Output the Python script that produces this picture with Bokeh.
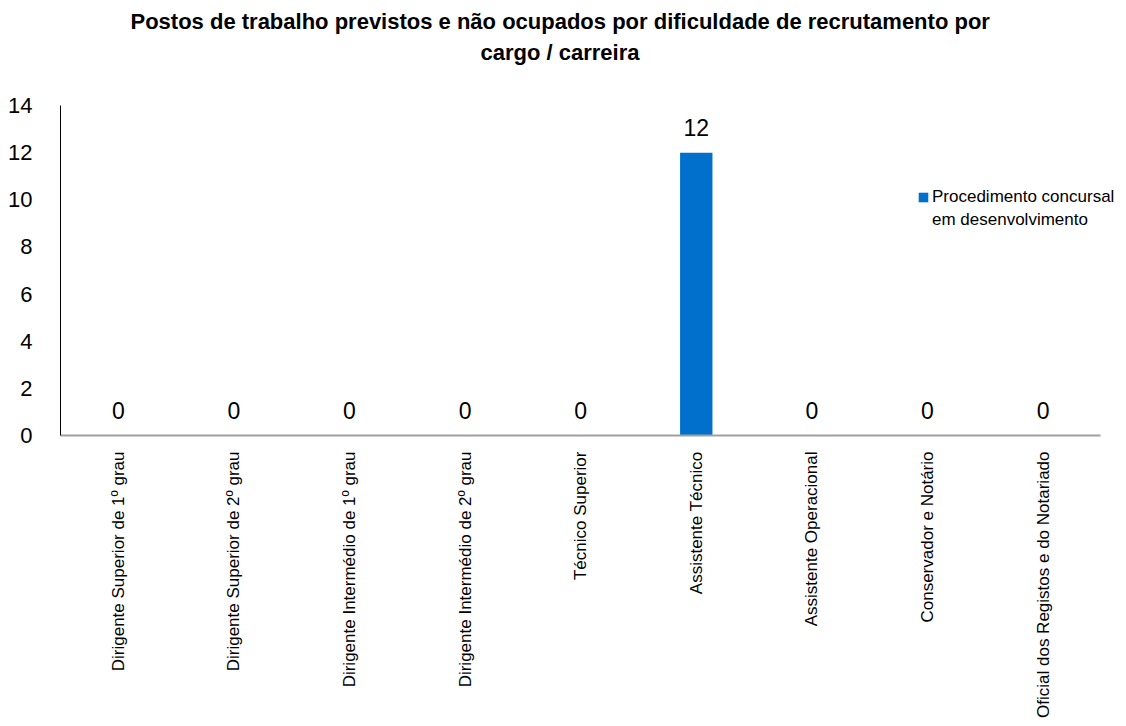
from bokeh.plotting import figure
from bokeh.models import ColumnDataSource, LabelSet, Legend, LegendItem, FixedTicker, Range1d, Title
from bokeh.core.properties import value
from bokeh.embed import file_html
from bokeh.resources import INLINE
import math

categories = [
    "Dirigente Superior de 1º grau",
    "Dirigente Superior de 2º grau",
    "Dirigente Intermédio de 1º grau",
    "Dirigente Intermédio de 2º grau",
    "Técnico Superior",
    "Assistente Técnico",
    "Assistente Operacional",
    "Conservador e Notário",
    "Oficial dos Registos e do Notariado",
]
values = [0, 0, 0, 0, 0, 12, 0, 0, 0]
series_name_line1 = "Procedimento concursal"
series_name_line2 = "em desenvolvimento"
y_ticks = [0, 2, 4, 6, 8, 10, 12, 14]
title_line1 = "Postos de trabalho previstos e não ocupados por  dificuldade de recrutamento por"
title_line2 = "cargo / carreira"

FONT = "Liberation Sans"
BLUE = "#0070CC"

idx = list(range(len(categories)))
src = ColumnDataSource(dict(x=idx, cat=categories, val=values, lab=[str(v) for v in values]))

n = len(categories)
# frame spans the categories plus a little room on the right for the legend text
p = figure(x_range=Range1d(-0.5, n - 0.5 + 0.17), y_range=Range1d(0, 14), width=1120, height=720,
           output_backend="svg", toolbar_location=None,
           min_border_left=60, min_border_right=0, min_border_top=105, min_border_bottom=284)
p.title = None
spacer = Title(text=" ", text_font=FONT, text_font_size="1px", standoff=37)
t2 = Title(text=title_line2, align="left", offset=420, text_font=FONT, text_font_size="22px",
           text_font_style="bold", text_color="#000000", standoff=2)
t1 = Title(text=title_line1, align="left", offset=70, text_font=FONT, text_font_size="22px",
           text_font_style="bold", text_color="#000000", standoff=6)
p.add_layout(spacer, "above")
p.add_layout(t2, "above")
p.add_layout(t1, "above")

r = p.vbar(x="x", top="val", width=0.28, source=src, fill_color=BLUE, line_color=None)
r_blank = p.vbar(x=[], top=[], width=0.28, fill_alpha=0, line_alpha=0)

labels = LabelSet(x="x", y="val", text="lab", source=src, text_align="center",
                  text_baseline="bottom", y_offset=17, text_font=value(FONT),
                  text_font_size=value("23px"), text_color="#000000")
p.add_layout(labels)

legend = Legend(items=[LegendItem(label=series_name_line1, renderers=[r]),
                       LegendItem(label=series_name_line2, renderers=[r_blank])],
                location=(857, 204), border_line_color=None, background_fill_alpha=0,
                padding=0, margin=0, spacing=0, glyph_width=12, glyph_height=12,
                label_height=23, label_standoff=3,
                label_text_font=FONT, label_text_font_size="17px",
                label_text_color="#000000")
p.add_layout(legend, "center")

p.xgrid.grid_line_color = None
p.ygrid.grid_line_color = None
p.outline_line_color = None
p.background_fill_color = "white"
p.border_fill_color = "white"

p.yaxis.ticker = FixedTicker(ticks=y_ticks)
p.yaxis.axis_line_color = "#000000"
p.yaxis.axis_line_width = 1
p.yaxis.major_tick_line_color = None
p.yaxis.minor_tick_line_color = None
p.yaxis.major_label_text_font = FONT
p.yaxis.major_label_text_font_size = "22px"
p.yaxis.major_label_text_color = "#000000"
p.yaxis.major_label_standoff = 22

p.xaxis.ticker = FixedTicker(ticks=idx)
p.xaxis.major_label_overrides = {i: c for i, c in zip(idx, categories)}
p.xaxis.bounds = (-0.5, n - 0.5)
p.xaxis.axis_line_color = "#A0A0A0"
p.xaxis.axis_line_width = 2
p.xaxis.major_tick_line_color = None
p.xaxis.minor_tick_line_color = None
p.xaxis.major_label_orientation = math.pi / 2
p.xaxis.major_label_text_font = FONT
p.xaxis.major_label_text_font_size = "17px"
p.xaxis.major_label_text_color = "#000000"
p.xaxis.major_label_standoff = 10

open("out.html", "w").write(file_html(p, INLINE))
